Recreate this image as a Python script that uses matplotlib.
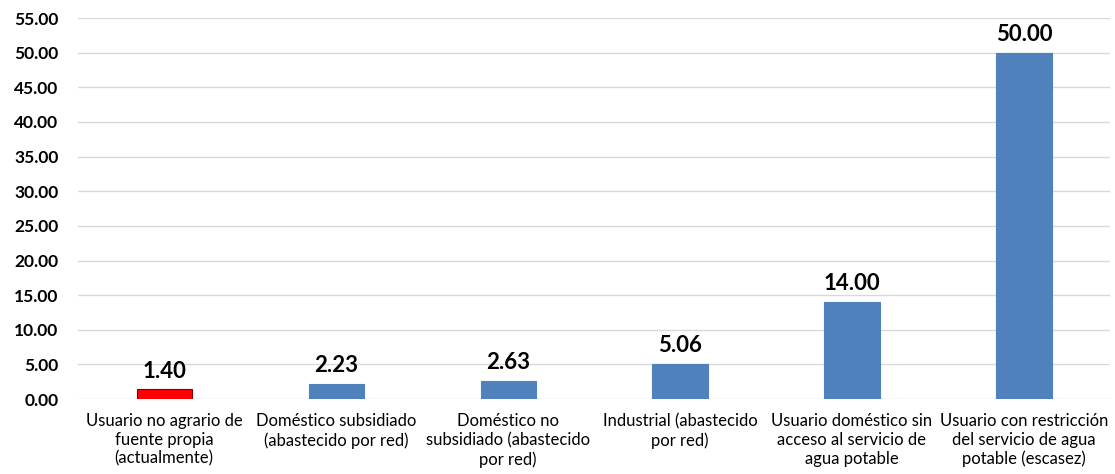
import matplotlib.pyplot as plt
from matplotlib.ticker import MultipleLocator, FormatStrFormatter

plt.rcParams['font.family'] = ['Lato', 'DejaVu Sans']

# Data
categories = [
    "Usuario no agrario de\nfuente propia\n(actualmente)",
    "Doméstico subsidiado\n(abastecido por red)",
    "Doméstico no\nsubsidiado (abastecido\npor red)",
    "Industrial (abastecido\npor red)",
    "Usuario doméstico sin\nacceso al servicio de\nagua potable",
    "Usuario con restricción\ndel servicio de agua\npotable (escasez)",
]
values = [1.40, 2.23, 2.63, 5.06, 14.00, 50.00]
colors = ['#FF0000', '#4F81BD', '#4F81BD', '#4F81BD', '#4F81BD', '#4F81BD']
edges = ['#7F0000', '#4F81BD', '#4F81BD', '#4F81BD', '#4F81BD', '#4F81BD']

fig = plt.figure(figsize=(11.15, 4.74), dpi=100)
ax = fig.add_axes([0.07, 0.158, 0.9255, 0.804])

x = range(len(categories))
bars = ax.bar(x, values, width=0.32, color=colors, edgecolor=edges, linewidth=0.8, zorder=3)

for b, v in zip(bars, values):
    ax.text(b.get_x() + b.get_width() / 2, v + 1.1, f'{v:.2f}', ha='center', va='bottom',
            fontsize=16, fontweight='bold', color='black')

ax.set_xlim(-0.5, len(categories) - 0.5)
ax.set_ylim(0, 55)
ax.yaxis.set_major_locator(MultipleLocator(5))
ax.yaxis.set_major_formatter(FormatStrFormatter('%.2f'))
ax.grid(axis='y', color='#D9D9D9', linewidth=1, zorder=0)

ax.set_xticks(list(x))
ax.set_xticklabels(categories, fontsize=12, color='black', linespacing=1.22)
for lbl in ax.get_yticklabels():
    lbl.set_fontweight('bold')
    lbl.set_fontsize(12.5)

ax.tick_params(axis='both', length=0)
ax.tick_params(axis='y', pad=14)
ax.tick_params(axis='x', pad=10)
for s in ax.spines.values():
    s.set_visible(False)

fig.savefig('out.png', dpi=100)
